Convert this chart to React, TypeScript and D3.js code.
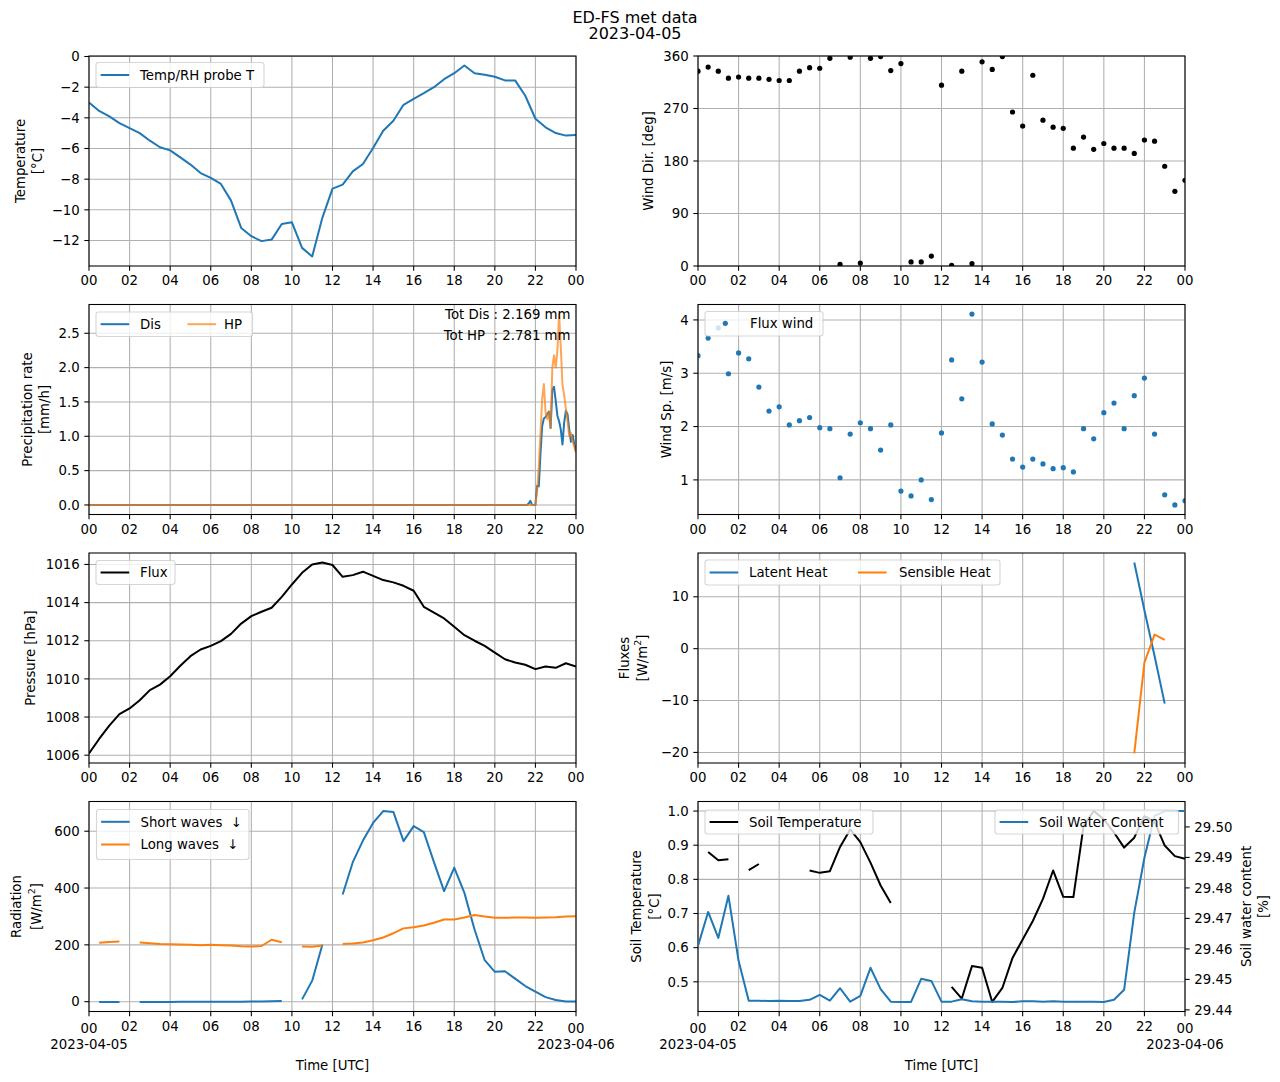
import * as d3 from 'd3';
import React from 'react';

const FONT = 'DejaVu Sans, Verdana, sans-serif';
const FS = 13.3;
const BLUE = '#1f77b4';
const ORANGE = '#ff7f0e';
const GRID = '#b0b0b0';

const DAY0 = new Date(Date.UTC(2023, 3, 5));
const DAY1 = new Date(Date.UTC(2023, 3, 6));

// half-hourly samples 00:00 .. 24:00 (49 values), null = missing
const temperature = [
  -3.0, -3.55, -3.9, -4.34, -4.67, -5.0, -5.49, -5.92, -6.12, -6.58, -7.05, -7.6, -7.92, -8.31, -9.4,
  -11.18, -11.72, -12.04, -11.94, -10.92, -10.81, -12.48, -13.04, -10.52, -8.62, -8.36, -7.49, -7.01,
  -5.97, -4.84, -4.19, -3.15, -2.76, -2.39, -2.0, -1.48, -1.09, -0.59, -1.09, -1.19, -1.32, -1.56,
  -1.56, -2.56, -4.06, -4.62, -4.99, -5.16, -5.12,
];
const windDir = [
  334, 341, 334, 322, 324, 322, 322, 320, 318, 318, 334, 340, 339, 356, 3, 358, 5, 356, 359, 335,
  347, 7, 7, 17, 310, 1, 334, 4, 350, 337, 359, 264, 240, 327, 250, 238, 236, 202, 221, 200,
  210, 202, 202, 193, 216, 214, 171, 128, 147,
];
const windSpeed = [
  3.33, 3.66, 3.85, 2.99, 3.38, 3.27, 2.74, 2.29, 2.37, 2.03, 2.11, 2.17, 1.98, 1.96, 1.04, 1.86,
  2.07, 1.96, 1.56, 2.03, 0.79, 0.7, 1.0, 0.63, 1.88, 3.25, 2.52, 4.11, 3.21, 2.05, 1.84, 1.39,
  1.24, 1.39, 1.3, 1.21, 1.23, 1.15, 1.96, 1.77, 2.26, 2.44, 1.96, 2.58, 2.91, 1.86, 0.72, 0.53, 0.61,
];
const pressure = [
  1006.09, 1006.85, 1007.55, 1008.15, 1008.45, 1008.88, 1009.41, 1009.7, 1010.14, 1010.69, 1011.19,
  1011.54, 1011.73, 1011.98, 1012.36, 1012.9, 1013.29, 1013.52, 1013.73, 1014.3, 1014.95, 1015.56,
  1016.0, 1016.1, 1015.97, 1015.35, 1015.44, 1015.62, 1015.4, 1015.18, 1015.06, 1014.88, 1014.62,
  1013.78, 1013.47, 1013.17, 1012.73, 1012.29, 1012.0, 1011.73, 1011.38, 1011.03, 1010.86, 1010.74,
  1010.51, 1010.65, 1010.58, 1010.82, 1010.65,
];
const shortWaves = [
  null, -1, -1, -1, null, -1, -1, -1, -1, -0.5, -0.5, -0.5, 0, 0, 0, -0.5, 1, 1, 1.5, 2.5, null,
  8, 74, 200, null, 377, 491, 567, 629, 671, 668, 565, 618, 597, 491, 389, 472, 383, 254, 146,
  105, 107, 81, 55, 35, 16, 6, 1, 1,
];
const longWaves = [
  null, 207, 210, 212, null, 208, 206, 203, 202, 201, 200, 199, 200, 199, 198, 195, 194, 196, 218,
  209, null, 194, 193, 198, null, 203, 205, 208, 216, 226, 241, 258, 262, 268, 278, 289, 289, 296,
  305, 300, 295, 295, 296, 296, 295, 296, 297, 300, 301,
];
const soilTemp = [
  null, 0.88, 0.856, 0.859, null, 0.827, 0.845, null, null, null, null, 0.826, 0.819, 0.824, 0.895,
  0.946, 0.909, 0.849, 0.782, 0.731, null, null, null, null, null, 0.485, 0.451, 0.546, 0.541, 0.441,
  0.482, 0.57, 0.624, 0.678, 0.743, 0.826, 0.749, 0.748, 0.956, 1.0, 0.976, 0.937, 0.893, 0.922,
  0.985, 0.968, 0.899, 0.868, 0.86,
];
const soilWater = [
  29.461, 29.4721, 29.4636, 29.4774, 29.4561, 29.443, 29.443, 29.4429, 29.443, 29.4429, 29.4429,
  29.4433, 29.4449, 29.443, 29.4471, 29.4427, 29.4446, 29.4538, 29.4468, 29.4427, 29.4426, 29.4426,
  29.4502, 29.4495, 29.4427, 29.4427, 29.4435, 29.4428, 29.4427, 29.4427, 29.4427, 29.4426, 29.4428,
  29.4428, 29.4427, 29.4428, 29.4427, 29.4427, 29.4427, 29.4427, 29.4426, 29.4433, 29.4466, 29.4719,
  29.4899, 29.5036, 29.5052, 29.5052, 29.5052,
];

// turbulent fluxes, only available at the end of the day
const fluxHours = [21.5, 22, 22.5, 23];
const latentHeat = [16.6, 7.4, -1.4, -10.6];
const sensibleHeat = [-20.2, -2.7, 2.7, 1.7];

// precipitation: zero from 00:00, then 5-minute samples from 21:30 to 24:00
const precipDis = [
  0, 0, 0, 0.02, 0.06, 0, 0, 0, 0.28, 0.27, 0.75, 1.15, 1.26, 1.28, 1.32, 1.36, 1.12, 1.68, 1.72,
  1.52, 1.3, 1.22, 1.1, 0.88, 1.2, 1.37, 1.32, 1.1, 0.92, 1.02, 0.88, 0.78,
];
const precipHP = [
  0, 0, 0, 0, 0, 0, 0, 0, 0.2, 0.55, 1.05, 1.55, 1.76, 1.35, 1.25, 1.35, 1.12, 2.0, 2.18, 2.0, 2.25,
  2.78, 2.3, 1.75, 1.6, 1.4, 1.22, 1.0, 1.05, 0.92, 0.85, 0.76,
];
const precipTotals = ['Tot Dis : 2.169 mm', 'Tot HP  : 2.781 mm'];

type Pt = { t: Date; v: number | null };
const halfHourly = (vals: (number | null)[]): Pt[] =>
  vals.map((v, i) => ({ t: d3.utcMinute.offset(DAY0, i * 30), v }));
const atHours = (hours: number[], vals: number[]): Pt[] =>
  vals.map((v, i) => ({ t: d3.utcMinute.offset(DAY0, Math.round(hours[i] * 60)), v }));
const precipTimes = [DAY0, ...d3.utcMinute.every(5)!.range(d3.utcMinute.offset(DAY0, 21.5 * 60), d3.utcMinute.offset(DAY1, 1))];
const precipSeries = (vals: number[]): Pt[] => vals.map((v, i) => ({ t: precipTimes[i], v }));

const padded = (...series: (number | null)[][]): [number, number] => {
  const all = series.flat().filter((v) => v != null) as number[];
  const [lo, hi] = d3.extent(all) as [number, number];
  const m = (hi - lo) * 0.05;
  return [lo - m, hi + m];
};

// layout
const W = 487;
const H = 210;
const COL = [89, 698];
const ROW = [56, 304.5, 553, 801.5];

const X_TICKS = d3.utcHour.every(2)!.range(DAY0, d3.utcMinute.offset(DAY1, 1));
const hourFmt = d3.utcFormat('%H');
const dayFmt = d3.utcFormat('%Y-%m-%d');
const minus = (s: string) => s.replace('-', '\u2212');

const lineOf = (x: any, y: any) =>
  d3
    .line<Pt>()
    .defined((d) => d.v != null)
    .x((d) => x(d.t))
    .y((d) => y(d.v as number));

const Label = ({ lines, xs, cy }: { lines: React.ReactNode[]; xs: number[]; cy: number }) => (
  <g>
    {lines.map((l, i) => (
      <text
        key={i}
        transform={`translate(${xs[i]},${cy}) rotate(-90)`}
        textAnchor="middle"
        dominantBaseline="central"
        fontSize={FS}
      >
        {l}
      </text>
    ))}
  </g>
);

const Wm2 = (
  <>
    <tspan>[W/m</tspan>
    <tspan dy={-5} fontSize={9.5}>2</tspan>
    <tspan dy={5}>]</tspan>
  </>
);

type Item = { kind: 'line' | 'dot'; color: string; opacity?: number; label: string; hx: number; tx: number; cy: number };
const Legend = ({ x, y, w, h, items }: { x: number; y: number; w: number; h: number; items: Item[] }) => (
  <g>
    <rect x={x} y={y} width={w} height={h} rx={2.7} fill="#fff" fillOpacity={0.8} stroke="#cccccc" strokeOpacity={0.8} strokeWidth={1.1} />
    {items.map((it, i) => (
      <g key={i}>
        {it.kind === 'line' ? (
          <line x1={x + it.hx} x2={x + it.hx + 26.6} y1={y + it.cy} y2={y + it.cy} stroke={it.color} strokeOpacity={it.opacity ?? 1} strokeWidth={2} strokeLinecap="square" />
        ) : (
          <circle cx={x + it.hx} cy={y + it.cy} r={2.6} fill={it.color} />
        )}
        <text x={x + it.tx} y={y + it.cy + 4.8} fontSize={FS} style={{ whiteSpace: 'pre' }}>
          {it.label}
        </text>
      </g>
    ))}
  </g>
);

type AxesProps = {
  id: string;
  left: number;
  top: number;
  yDomain: [number, number];
  yTicks: number[];
  yFmt: (v: number) => string;
  ylabel: React.ReactNode[];
  ylabelX: number[];
  dateRow?: boolean;
  render: (x: any, y: any) => React.ReactNode;
  legend?: React.ReactNode;
  after?: (x: any) => React.ReactNode;
};

const Axes = ({ id, left, top, yDomain, yTicks, yFmt, ylabel, ylabelX, dateRow, render, legend, after }: AxesProps) => {
  const x = d3.scaleUtc().domain([DAY0, DAY1]).range([left, left + W]);
  const y = d3.scaleLinear().domain(yDomain).range([top + H, top]);
  const bottom = top + H;
  const last = X_TICKS.length - 1;
  return (
    <g>
      <defs>
        <clipPath id={id}>
          <rect x={left} y={top} width={W} height={H} />
        </clipPath>
      </defs>
      <rect x={left} y={top} width={W} height={H} fill="#fff" />
      <g stroke={GRID} strokeWidth={1.07}>
        {X_TICKS.map((t, i) => (
          <line key={'gx' + i} x1={x(t)} x2={x(t)} y1={top} y2={bottom} />
        ))}
        {yTicks.map((v, i) => (
          <line key={'gy' + i} x1={left} x2={left + W} y1={y(v)} y2={y(v)} />
        ))}
      </g>
      <g clipPath={`url(#${id})`}>{render(x, y)}</g>
      <rect x={left} y={top} width={W} height={H} fill="none" stroke="#000" strokeWidth={1.07} />
      {X_TICKS.map((t, i) => {
        const twoLine = dateRow && (i === 0 || i === last);
        return (
          <g key={'tx' + i}>
            <line x1={x(t)} x2={x(t)} y1={bottom} y2={bottom + 4.7} stroke="#000" strokeWidth={1.07} />
            <text x={x(t)} y={bottom + (twoLine ? 21 : 19)} textAnchor="middle" fontSize={FS}>
              {hourFmt(t)}
            </text>
            {twoLine && (
              <text x={x(t)} y={bottom + 37.5} textAnchor="middle" fontSize={FS}>
                {dayFmt(t)}
              </text>
            )}
          </g>
        );
      })}
      {dateRow && (
        <text x={left + W / 2} y={bottom + 58.5} textAnchor="middle" fontSize={FS}>
          Time [UTC]
        </text>
      )}
      {yTicks.map((v, i) => (
        <g key={'ty' + i}>
          <line x1={left - 4.7} x2={left} y1={y(v)} y2={y(v)} stroke="#000" strokeWidth={1.07} />
          <text x={left - 9.3} y={y(v) + 4.7} textAnchor="end" fontSize={FS}>
            {minus(yFmt(v))}
          </text>
        </g>
      ))}
      <Label lines={ylabel} xs={ylabelX} cy={top + H / 2} />
      {legend}
      {after && after(x)}
    </g>
  );
};

const f0 = d3.format('d');
const f1 = d3.format('.1f');
const f2 = d3.format('.2f');

export default function App() {
  const temp = halfHourly(temperature);
  const wdir = halfHourly(windDir);
  const wsp = halfHourly(windSpeed);
  const pres = halfHourly(pressure);
  const sw = halfHourly(shortWaves);
  const lw = halfHourly(longWaves);
  const st = halfHourly(soilTemp);
  const swc = halfHourly(soilWater);
  const le = atHours(fluxHours, latentHeat);
  const sh = atHours(fluxHours, sensibleHeat);
  const dis = precipSeries(precipDis);
  const hp = precipSeries(precipHP);

  const swDomain = padded(soilWater);
  const swTop = ROW[3];
  const y2 = d3.scaleLinear().domain(swDomain).range([swTop + H, swTop]);
  const swTicks = [29.44, 29.45, 29.46, 29.47, 29.48, 29.49, 29.5];
  const R = COL[1] + W;

  return (
    <svg
      width={1280}
      height={1082}
      style={{ position: 'absolute', left: 0, top: 0, background: '#fff' }}
      fontFamily={FONT}
    >
      <rect width={1280} height={1082} fill="#fff" />
      <text x={635} y={22.5} textAnchor="middle" fontSize={16}>
        ED-FS met data
      </text>
      <text x={635} y={39} textAnchor="middle" fontSize={16}>
        2023-04-05
      </text>

      {/* temperature */}
      <Axes
        id="c-temp"
        left={COL[0]}
        top={ROW[0]}
        yDomain={padded(temperature)}
        yTicks={[-12, -10, -8, -6, -4, -2, 0]}
        yFmt={f0}
        ylabel={['Temperature', '[°C]']}
        ylabelX={[20, 37]}
        render={(x, y) => <path d={lineOf(x, y)(temp) || ''} fill="none" stroke={BLUE} strokeWidth={2} strokeLinejoin="round" />}
        legend={<Legend x={96} y={62.5} w={168} h={25} items={[{ kind: 'line', color: BLUE, label: 'Temp/RH probe T', hx: 5.6, tx: 44, cy: 12.5 }]} />}
      />

      {/* wind direction */}
      <Axes
        id="c-wdir"
        left={COL[1]}
        top={ROW[0]}
        yDomain={[0, 360]}
        yTicks={[0, 90, 180, 270, 360]}
        yFmt={f0}
        ylabel={['Wind Dir. [deg]']}
        ylabelX={[648]}
        render={(x, y) => wdir.map((d, i) => <circle key={i} cx={x(d.t)} cy={y(d.v)} r={2.6} fill="#000" />)}
      />

      {/* precipitation */}
      <Axes
        id="c-prec"
        left={COL[0]}
        top={ROW[1]}
        yDomain={padded(precipDis, precipHP)}
        yTicks={[0, 0.5, 1, 1.5, 2, 2.5]}
        yFmt={f1}
        ylabel={['Precipitation rate', '[mm/h]']}
        ylabelX={[27, 44]}
        render={(x, y) => (
          <g fill="none" strokeWidth={2} strokeLinejoin="round">
            <path d={lineOf(x, y)(dis) || ''} stroke={BLUE} />
            <path d={lineOf(x, y)(hp) || ''} stroke={ORANGE} strokeOpacity={0.7} />
          </g>
        )}
        legend={
          <g>
            <Legend
              x={96}
              y={312}
              w={156.5}
              h={24.5}
              items={[
                { kind: 'line', color: BLUE, label: 'Dis', hx: 5.6, tx: 44, cy: 12.2 },
                { kind: 'line', color: ORANGE, opacity: 0.7, label: 'HP', hx: 92.5, tx: 128, cy: 12.2 },
              ]}
            />
            {precipTotals.map((s, i) => (
              <text key={i} x={570.5} y={319 + i * 20.5} textAnchor="end" fontSize={FS} style={{ whiteSpace: 'pre' }}>
                {s}
              </text>
            ))}
          </g>
        }
      />

      {/* wind speed */}
      <Axes
        id="c-wsp"
        left={COL[1]}
        top={ROW[1]}
        yDomain={padded(windSpeed)}
        yTicks={[1, 2, 3, 4]}
        yFmt={f0}
        ylabel={['Wind Sp. [m/s]']}
        ylabelX={[666]}
        render={(x, y) => wsp.map((d, i) => <circle key={i} cx={x(d.t)} cy={y(d.v)} r={2.6} fill={BLUE} />)}
        legend={<Legend x={705} y={311.5} w={118} h={24.5} items={[{ kind: 'dot', color: BLUE, label: 'Flux wind', hx: 20.3, tx: 45, cy: 11.8 }]} />}
      />

      {/* pressure */}
      <Axes
        id="c-pres"
        left={COL[0]}
        top={ROW[2]}
        yDomain={padded(pressure)}
        yTicks={[1006, 1008, 1010, 1012, 1014, 1016]}
        yFmt={f0}
        ylabel={['Pressure [hPa]']}
        ylabelX={[30]}
        render={(x, y) => <path d={lineOf(x, y)(pres) || ''} fill="none" stroke="#000" strokeWidth={2} strokeLinejoin="round" />}
        legend={<Legend x={96} y={560.5} w={79} h={24} items={[{ kind: 'line', color: '#000', label: 'Flux', hx: 5.6, tx: 44, cy: 12 }]} />}
      />

      {/* turbulent fluxes */}
      <Axes
        id="c-flux"
        left={COL[1]}
        top={ROW[2]}
        yDomain={padded(latentHeat, sensibleHeat)}
        yTicks={[-20, -10, 0, 10]}
        yFmt={f0}
        ylabel={['Fluxes', Wm2]}
        ylabelX={[624, 642]}
        render={(x, y) => (
          <g fill="none" strokeWidth={2} strokeLinejoin="round">
            <path d={lineOf(x, y)(le) || ''} stroke={BLUE} />
            <path d={lineOf(x, y)(sh) || ''} stroke={ORANGE} />
          </g>
        )}
        legend={
          <Legend
            x={705}
            y={560}
            w={295}
            h={25}
            items={[
              { kind: 'line', color: BLUE, label: 'Latent Heat', hx: 5.6, tx: 44, cy: 12.5 },
              { kind: 'line', color: ORANGE, label: 'Sensible Heat', hx: 154, tx: 194, cy: 12.5 },
            ]}
          />
        }
      />

      {/* radiation */}
      <Axes
        id="c-rad"
        left={COL[0]}
        top={ROW[3]}
        yDomain={padded(shortWaves, longWaves)}
        yTicks={[0, 200, 400, 600]}
        yFmt={f0}
        ylabel={['Radiation', Wm2]}
        ylabelX={[16, 36]}
        dateRow
        render={(x, y) => (
          <g fill="none" strokeWidth={2} strokeLinejoin="round">
            <path d={lineOf(x, y)(sw) || ''} stroke={BLUE} />
            <path d={lineOf(x, y)(lw) || ''} stroke={ORANGE} />
          </g>
        )}
        legend={
          <Legend
            x={96.5}
            y={809.5}
            w={152.5}
            h={50}
            items={[
              { kind: 'line', color: BLUE, label: 'Short waves  \u2193', hx: 5.6, tx: 44, cy: 12.3 },
              { kind: 'line', color: ORANGE, label: 'Long waves  \u2193', hx: 5.6, tx: 44, cy: 35 },
            ]}
          />
        }
      />

      {/* soil temperature + soil water content */}
      <Axes
        id="c-soil"
        left={COL[1]}
        top={ROW[3]}
        yDomain={padded(soilTemp)}
        yTicks={[0.5, 0.6, 0.7, 0.8, 0.9, 1.0]}
        yFmt={f1}
        ylabel={['Soil Temperature', '[°C]']}
        ylabelX={[636, 654]}
        dateRow
        render={(x, y) => <path d={lineOf(x, y)(st) || ''} fill="none" stroke="#000" strokeWidth={2} strokeLinejoin="round" />}
        legend={<Legend x={705} y={810} w={168} h={24} items={[{ kind: 'line', color: '#000', label: 'Soil Temperature', hx: 5.6, tx: 44, cy: 12 }]} />}
        after={(x) => (
          <g>
            <g clipPath="url(#c-soil)">
              <path d={lineOf(x, y2)(swc) || ''} fill="none" stroke={BLUE} strokeWidth={2} strokeLinejoin="round" />
            </g>
            {swTicks.map((v, i) => (
              <g key={i}>
                <line x1={R} x2={R + 4.7} y1={y2(v)} y2={y2(v)} stroke="#000" strokeWidth={1.07} />
                <text x={R + 9.3} y={y2(v) + 4.7} fontSize={FS}>
                  {f2(v)}
                </text>
              </g>
            ))}
            <Label lines={['Soil water content', '[%]']} xs={[1246, 1263]} cy={swTop + H / 2} />
            <Legend x={995} y={810} w={183.5} h={24} items={[{ kind: 'line', color: BLUE, label: 'Soil Water Content', hx: 5.6, tx: 44, cy: 12 }]} />
          </g>
        )}
      />
    </svg>
  );
}
